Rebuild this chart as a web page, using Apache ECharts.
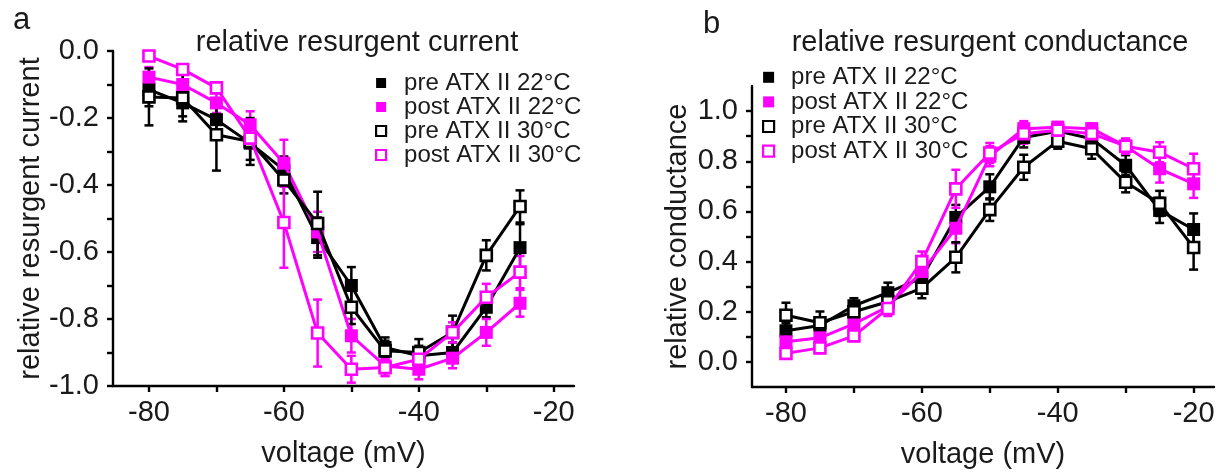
<!DOCTYPE html>
<html>
<head>
<meta charset="utf-8">
<script src="https://cdn.jsdelivr.net/npm/echarts@6/dist/echarts.min.js"></script>
<style>
html,body{margin:0;padding:0;background:#fff;}
#chart{width:1230px;height:475px;}
</style>
</head>
<body>
<div id="chart"></div>
<script>
// ---------- data ----------
const seriesNames = ['pre ATX II 22°C', 'post ATX II 22°C', 'pre ATX II 30°C', 'post ATX II 30°C'];

// panel a: relative resurgent current
const voltA = [-80, -75, -70, -65, -60, -55, -50, -45, -40, -35, -30, -25];
const curPre22  = [-0.115, -0.155, -0.205, -0.275, -0.355, -0.557, -0.70, -0.885, -0.91, -0.90, -0.765, -0.587];
const curPost22 = [-0.078, -0.10, -0.155, -0.22, -0.335, -0.54, -0.85, -0.94, -0.95, -0.917, -0.84, -0.753];
const curPre30  = [-0.137, -0.14, -0.25, -0.27, -0.385, -0.515, -0.765, -0.895, -0.90, -0.84, -0.61, -0.464];
const curPost30 = [-0.015, -0.055, -0.11, -0.26, -0.512, -0.842, -0.95, -0.945, -0.92, -0.84, -0.735, -0.66];
const errCurPre22  = [0.05, 0.04, 0.04, 0.05, 0.04, 0.06, 0.055, 0.03, 0.03, 0.03, 0.03, 0.07];
const errCurPost22 = [0.03, 0.03, 0.03, 0.04, 0.07, 0.06, 0.05, 0.03, 0.03, 0.03, 0.04, 0.04];
const errCurPre30  = [0.085, 0.07, 0.107, 0.07, 0.04, 0.095, 0.05, 0.03, 0.04, 0.05, 0.045, 0.048];
const errCurPost30 = [0.01, 0.01, 0.015, 0.03, 0.135, 0.1, 0.04, 0.025, 0.03, 0.03, 0.04, 0.048];

// panel b: relative resurgent conductance
const voltB = [-80, -75, -70, -65, -60, -55, -50, -45, -40, -35, -30, -25, -20];
const condPre22  = [0.124, 0.145, 0.224, 0.276, 0.335, 0.576, 0.698, 0.895, 0.92, 0.89, 0.784, 0.604, 0.528];
const condPost22 = [0.08, 0.096, 0.152, 0.22, 0.36, 0.533, 0.82, 0.93, 0.936, 0.93, 0.86, 0.77, 0.71];
const condPre30  = [0.186, 0.156, 0.20, 0.24, 0.294, 0.417, 0.607, 0.776, 0.88, 0.85, 0.716, 0.632, 0.456];
const condPost30 = [0.034, 0.056, 0.104, 0.213, 0.40, 0.69, 0.833, 0.91, 0.924, 0.91, 0.86, 0.836, 0.77];
const errCondPre22  = [0.03, 0.03, 0.03, 0.04, 0.03, 0.05, 0.05, 0.04, 0.02, 0.02, 0.04, 0.05, 0.064];
const errCondPost22 = [0.03, 0.03, 0.03, 0.03, 0.04, 0.06, 0.04, 0.03, 0.02, 0.02, 0.03, 0.055, 0.056];
const errCondPre30  = [0.05, 0.045, 0.04, 0.04, 0.04, 0.06, 0.045, 0.05, 0.03, 0.04, 0.04, 0.05, 0.088];
const errCondPost30 = [0.02, 0.02, 0.02, 0.03, 0.04, 0.076, 0.04, 0.04, 0.02, 0.02, 0.03, 0.04, 0.06];

// tick labels
const xTickValues = [-80, -70, -60, -50, -40, -30, -20];
const xLabelValues = [-80, -60, -40, -20];
const yTickValuesA = [-1.0, -0.9, -0.8, -0.7, -0.6, -0.5, -0.4, -0.3, -0.2, -0.1, 0.0];
const yLabelValuesA = [-1.0, -0.8, -0.6, -0.4, -0.2, 0.0];
const yTickValuesB = [0.0, 0.1, 0.2, 0.3, 0.4, 0.5, 0.6, 0.7, 0.8, 0.9, 1.0];
const yLabelValuesB = [0.0, 0.2, 0.4, 0.6, 0.8, 1.0];

// ---------- styling ----------
const FONT = "'Liberation Sans', Arial, sans-serif";
const BLACK = '#000000';
const MAG = '#ff00ff';
const TXT = '#1a1a1a';
const styles = [
  {color: BLACK, open: false},
  {color: MAG, open: false},
  {color: BLACK, open: true},
  {color: MAG, open: true}
];

function zip(xs, ys) { return xs.map((x, i) => [x, ys[i]]); }
function zip3(xs, ys, es) { return xs.map((x, i) => [x, ys[i], es[i]]); }

function errRender(color) {
  return function (params, api) {
    const x = api.value(0), y = api.value(1), e = api.value(2);
    const top = api.coord([x, y + e]);
    const bot = api.coord([x, y - e]);
    const hw = 4.5;
    const st = {stroke: color, lineWidth: 2.5};
    return {
      type: 'group',
      children: [
        {type: 'line', shape: {x1: top[0], y1: top[1], x2: bot[0], y2: bot[1]}, style: st},
        {type: 'line', shape: {x1: top[0] - hw, y1: top[1], x2: top[0] + hw, y2: top[1]}, style: st},
        {type: 'line', shape: {x1: bot[0] - hw, y1: bot[1], x2: bot[0] + hw, y2: bot[1]}, style: st}
      ]
    };
  };
}

function lineSeries(name, idx, data, axisIdx) {
  const s = styles[idx];
  return {
    type: 'line', name: name, xAxisIndex: axisIdx, yAxisIndex: axisIdx,
    data: data, symbol: 'rect', symbolSize: s.open ? 11 : 13, showAllSymbol: true,
    lineStyle: {color: s.color, width: 3},
    itemStyle: s.open ? {color: '#ffffff', borderColor: s.color, borderWidth: 2.6}
                      : {color: s.color, borderColor: s.color, borderWidth: 0},
    emphasis: {disabled: true}, z: 3 + idx, animation: false
  };
}
function errSeries(idx, data, axisIdx) {
  return {
    type: 'custom', xAxisIndex: axisIdx, yAxisIndex: axisIdx,
    data: data, renderItem: errRender(styles[idx].color), z: 2, silent: true, animation: false
  };
}

const seriesA = [
  zip(voltA, curPre22), zip(voltA, curPost22), zip(voltA, curPre30), zip(voltA, curPost30)
];
const errA = [
  zip3(voltA, curPre22, errCurPre22), zip3(voltA, curPost22, errCurPost22),
  zip3(voltA, curPre30, errCurPre30), zip3(voltA, curPost30, errCurPost30)
];
const seriesB = [
  zip(voltB, condPre22), zip(voltB, condPost22), zip(voltB, condPre30), zip(voltB, condPost30)
];
const errB = [
  zip3(voltB, condPre22, errCondPre22), zip3(voltB, condPost22, errCondPost22),
  zip3(voltB, condPre30, errCondPre30), zip3(voltB, condPost30, errCondPost30)
];

const series = [];
for (let i = 0; i < 4; i++) series.push(errSeries(i, errA[i], 0));
for (let i = 0; i < 4; i++) series.push(lineSeries(seriesNames[i], i, seriesA[i], 0));
for (let i = 0; i < 4; i++) series.push(errSeries(i, errB[i], 1));
for (let i = 0; i < 4; i++) series.push(lineSeries(seriesNames[i], i, seriesB[i], 1));

function legendData() {
  return seriesNames.map((n, i) => {
    const s = styles[i];
    return {
      name: n,
      itemStyle: s.open ? {color: '#ffffff', borderColor: s.color, borderWidth: 2.2}
                        : {color: s.color, borderColor: s.color, borderWidth: 0}
    };
  });
}

const tickLabelStyle = {fontFamily: FONT, fontSize: 29, color: TXT};
const axisNameStyle = {fontFamily: FONT, fontSize: 29, color: TXT};

function xAxis(gridIndex, min, max) {
  return {
    type: 'value', gridIndex: gridIndex, min: min, max: max,
    name: 'voltage (mV)', nameLocation: 'middle', nameGap: 53, nameTextStyle: axisNameStyle,
    axisLine: {show: true, onZero: false, lineStyle: {color: BLACK, width: 2.4}},
    axisTick: {show: true, inside: false, length: 6, lineStyle: {color: BLACK, width: 2.4}, customValues: xTickValues},
    axisLabel: {show: true, margin: 12, ...tickLabelStyle, customValues: xLabelValues, formatter: v => String(v)},
    splitLine: {show: false}
  };
}
function yAxis(gridIndex, min, max, name, nameGap, ticks, labels) {
  return {
    type: 'value', gridIndex: gridIndex, min: min, max: max,
    name: name, nameLocation: 'middle', nameGap: nameGap, nameRotate: 90, nameTextStyle: axisNameStyle,
    axisLine: {show: true, onZero: false, lineStyle: {color: BLACK, width: 2.4}},
    axisTick: {show: true, inside: false, length: 6, lineStyle: {color: BLACK, width: 2.4}, customValues: ticks},
    axisLabel: {show: true, margin: 14, ...tickLabelStyle, customValues: labels, formatter: v => v.toFixed(1)},
    splitLine: {show: false}
  };
}

const option = {
  backgroundColor: '#ffffff',
  animation: false,
  title: [
    {text: 'a', left: 8, top: 0, textStyle: {fontFamily: FONT, fontSize: 31, fontWeight: 'normal', color: TXT}},
    {text: 'b', left: 698, top: 4, textStyle: {fontFamily: FONT, fontSize: 31, fontWeight: 'normal', color: TXT}},
    {text: 'relative resurgent current', left: 352, top: 23, textAlign: 'center',
     textStyle: {fontFamily: FONT, fontSize: 29, fontWeight: 'normal', color: TXT}},
    {text: 'relative resurgent conductance', left: 985, top: 23, textAlign: 'center',
     textStyle: {fontFamily: FONT, fontSize: 29, fontWeight: 'normal', color: TXT}}
  ],
  legend: [
    {data: legendData(), orient: 'vertical', left: 375, top: 71, padding: 0, itemGap: 0,
     itemWidth: 10, itemHeight: 10, icon: 'rect', selectedMode: false,
     textStyle: {fontFamily: FONT, fontSize: 24, color: TXT, lineHeight: 23.4, padding: [0, 0, 0, 13]}},
    {data: legendData(), orient: 'vertical', left: 762, top: 65, padding: 0, itemGap: 0,
     itemWidth: 11, itemHeight: 11, icon: 'rect', selectedMode: false,
     textStyle: {fontFamily: FONT, fontSize: 24, color: TXT, lineHeight: 24.6, padding: [0, 0, 0, 12]}}
  ],
  grid: [
    {left: 113, right: 656, top: 51, bottom: 89, containLabel: false},
    {left: 752, right: 16, top: 86, bottom: 88, containLabel: false}
  ],
  xAxis: [xAxis(0, -85.33, -17), xAxis(1, -85, -17)],
  yAxis: [
    yAxis(0, -1, 0, 'relative resurgent current', 67, yTickValuesA, yLabelValuesA),
    yAxis(1, -0.1, 1.1, 'relative conductance', 60, yTickValuesB, yLabelValuesB)
  ],
  series: series
};

const chart = echarts.init(document.getElementById('chart'), null, {renderer: 'canvas', width: 1230, height: 475});
chart.setOption(option);
</script>
</body>
</html>
